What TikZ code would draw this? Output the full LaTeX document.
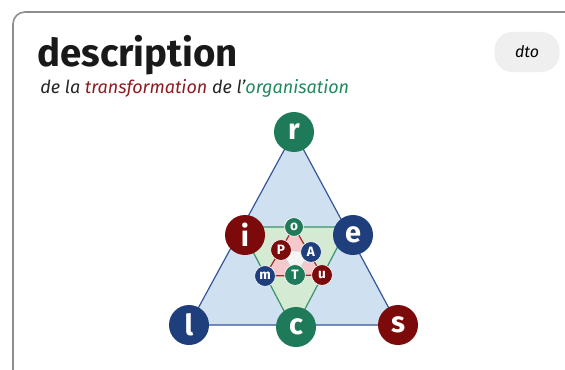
\documentclass[tikz,border=0pt]{standalone}
\usepackage{fontspec}
\setmainfont{Fira Sans}
\usetikzlibrary{positioning, backgrounds}

\definecolor{nodegreen}{HTML}{1F7A5A}
\definecolor{nodered}{HTML}{7D0A0A}
\definecolor{nodeblue}{HTML}{1F3E7C}
\definecolor{trblue}{HTML}{CFE0F1}
\definecolor{edgeblue}{HTML}{35569A}
\definecolor{trgreen}{HTML}{D5EAD3}
\definecolor{edgegreen}{HTML}{3A936A}
\definecolor{trpink}{HTML}{F5C8CC}
\definecolor{edgered}{HTML}{A3282A}
\definecolor{subred}{HTML}{8E1B1F}
\definecolor{subgreen}{HTML}{1F8A5C}
\definecolor{cardline}{HTML}{8E8E8E}
\definecolor{pillgray}{HTML}{EFEFEF}

\begin{document}
\begin{tikzpicture}[
		x=0.5pt, y=-0.5pt,
		bignode/.style={circle, inner sep=0pt, minimum size=20pt, text=white, font=\fontsize{14.5}{14.5}\selectfont\bfseries},
		smallnode/.style={circle, inner sep=0pt, minimum size=10.4pt, text=white, draw=white, line width=0.3pt, font=\fontsize{6.8}{6.8}\selectfont\bfseries},
		gnode/.style={fill=nodegreen},
		rnode/.style={fill=nodered},
		bnode/.style={fill=nodeblue},
		outer/.style={fill=trblue, draw=edgeblue, line width=0.6pt, line join=round},
		middle/.style={fill=trgreen, draw=edgegreen, line width=0.6pt, line join=round},
		inner/.style={fill=trpink, draw=edgered, line width=0.6pt, line join=round},
		core/.style={fill=gray!8, draw=gray!35, line width=0.4pt}
		]
		
		\useasboundingbox (0,0) rectangle (565,369);
		\clip (0,0) rectangle (565,369);
		
		% ==========================================
		% HEADER
		% ==========================================
		\node[anchor=base west, inner sep=0pt, font=\fontsize{19.2}{19.2}\selectfont\bfseries, text=black!90] (title) at (37,67) {description};
		\node[anchor=base west, inner sep=0pt, font=\fontsize{9}{9}\selectfont\itshape, text=black!85] (subtitle) at (40,93) {de la \textcolor{subred}{transformation} de l’\textcolor{subgreen}{organisation}};
		\node[fill=pillgray, rounded corners=9pt, minimum width=32.5pt, minimum height=20pt, inner sep=0pt, font=\fontsize{8}{8}\selectfont\itshape] (dto) at (527,52) {dto};
		
		% ==========================================
		% OUTER TRIANGLE
		% ==========================================
		\node[bignode, gnode] (r) at (294,132) {r};
		\node[bignode, bnode] (l) at (189,325) {l};
		\node[bignode, rnode] (s) at (398,325) {s};
		\node[bignode, rnode] (i) at (245,235) {i};
		\node[bignode, bnode] (e) at (353,235) {e};
		\node[bignode, gnode] (c) at (296,327) {c};
		
		% ==========================================
		% INNER TRIANGLE
		% ==========================================
		\node[smallnode, gnode, minimum size=9.4pt] (o) at (294,227) {o};
		\node[smallnode, rnode] (P) at (281,250) {P};
		\node[smallnode, bnode] (A) at (311,252) {A};
		\node[smallnode, bnode] (m) at (265,276) {m};
		\node[smallnode, gnode] (T) at (295,275) {T};
		\node[smallnode, rnode] (u) at (322,275) {u};
		
		\coordinate (g_left) at (240,227);
		\coordinate (g_right) at (348,227);
		\coordinate (g_bottom) at (294,330);
		
		% ==========================================
		% BACKGROUND: card and triangles
		% ==========================================
		\begin{scope}[on background layer]
			\draw[fill=white, draw=cardline, line width=0.8pt, rounded corners=6pt] (13,12) rectangle (578,382);
			\draw[outer] (r.center) -- (l.center) -- (s.center) -- cycle;
			\draw[middle] (g_left) -- (g_right) -- (g_bottom) -- cycle;
			\draw[inner] (o.center) -- (m.center) -- (u.center) -- cycle;
			\draw[core] (P.center) -- (A.center) -- (T.center) -- cycle;
		\end{scope}
		
	\end{tikzpicture}
\end{document}
